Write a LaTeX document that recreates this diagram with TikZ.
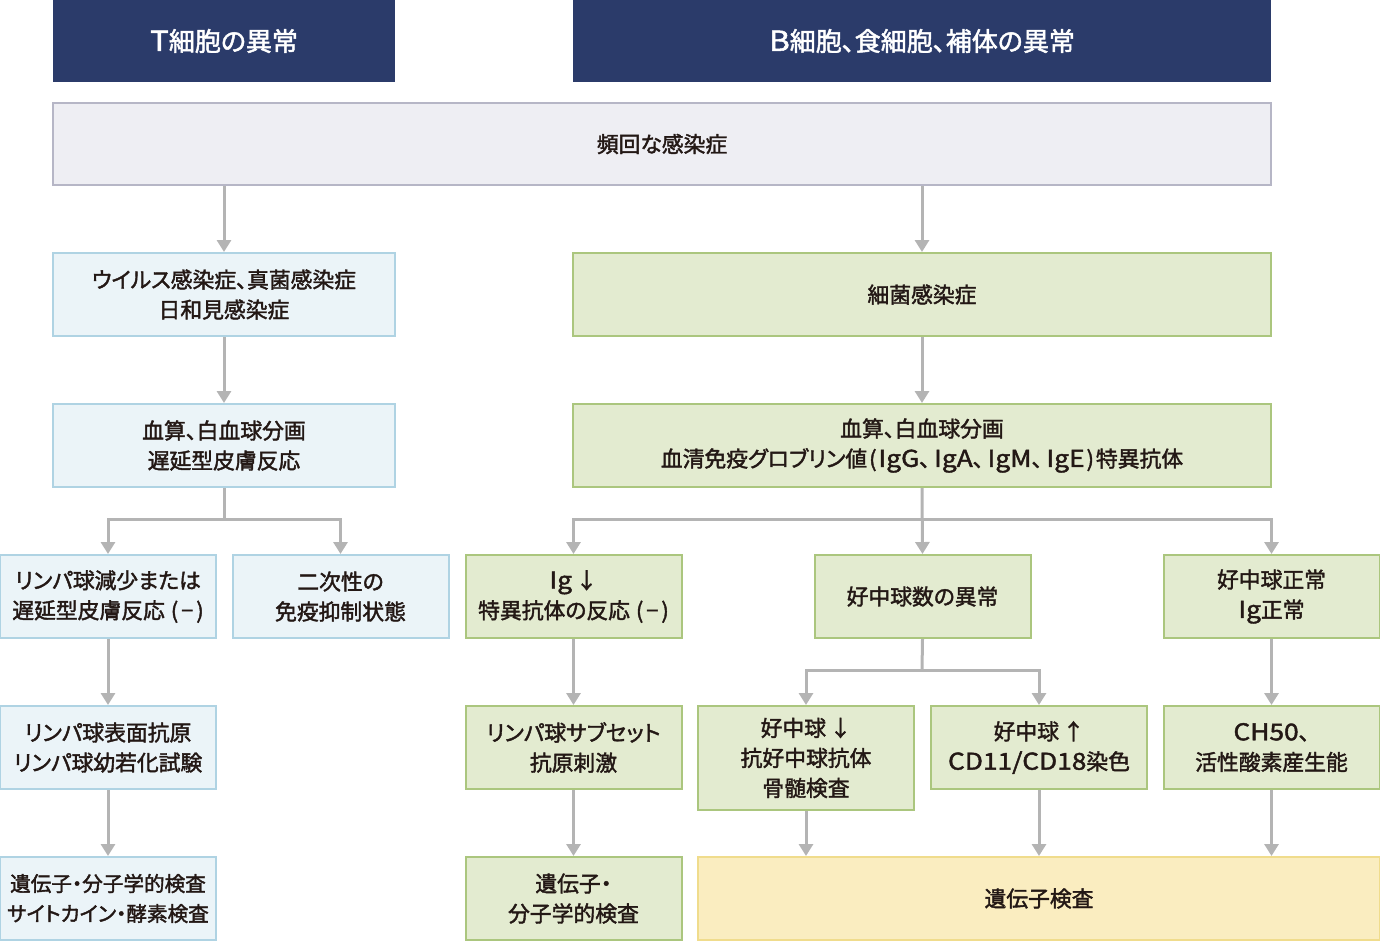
\documentclass[tikz,border=0pt]{standalone}
\usepackage{fontspec}
\setmainfont{Noto Sans CJK JP}[AutoFakeBold=1.8, RawFeature=+palt]
\newfontfamily\lat{Noto Sans CJK JP}[AutoFakeBold=1.8, FakeStretch=1.14, Scale=1.06]
\usetikzlibrary{arrows.meta}
\definecolor{navy}{HTML}{2B3B6A}
\definecolor{grayfill}{HTML}{EEEEF3}
\definecolor{grayline}{HTML}{B6B6C6}
\definecolor{bluefill}{HTML}{EBF4F8}
\definecolor{blueline}{HTML}{AFD3E3}
\definecolor{greenfill}{HTML}{E3EBD0}
\definecolor{greenline}{HTML}{ABC67E}
\definecolor{yelfill}{HTML}{FAEDC0}
\definecolor{yelline}{HTML}{F0DC8C}
\definecolor{arrgray}{HTML}{B4B4B4}
\definecolor{txt}{HTML}{231815}
\newcommand\negmark{\hspace{3pt}(\hspace{1.5pt}−\hspace{1.5pt})}
\tikzset{
  base/.style={align=center, inner sep=0pt, text=txt, line width=1pt,
    font=\bfseries\fontsize{10.9}{15}\selectfont},
  hdr/.style={base, fill=navy, text=white, font=\bfseries\fontsize{13}{15}\selectfont},
  graybox/.style={base, draw=grayline, fill=grayfill},
  bluebox/.style={base, draw=blueline, fill=bluefill},
  greenbox/.style={base, draw=greenline, fill=greenfill},
  yelbox/.style={base, draw=yelline, fill=yelfill},
  conn/.style={draw=arrgray, line width=1.5pt},
  arr/.style={conn, -{Triangle[width=7pt,length=6pt]}},
}
\begin{document}
\begin{tikzpicture}[x=0.5pt,y=-0.5pt]
\useasboundingbox (0,0) rectangle (1380,950);
% headers
\node[hdr, minimum width=171pt, minimum height=41pt] (h1) at (224,41) {{\lat T}細胞の異常};
\node[hdr, minimum width=349pt, minimum height=41pt] (h2) at (922,41) {{\lat B}細胞、食細胞、補体の異常};
% row 1
\node[graybox, minimum width=609pt, minimum height=41pt] (f) at (662,144) {頻回な感染症};
% row 2
\node[bluebox, minimum width=171pt, minimum height=41.5pt] (l2) at (224,294.5) {ウイルス感染症、真菌感染症\\日和見感染症};
\node[greenbox, minimum width=349pt, minimum height=41.5pt] (r2) at (922,294.5) {細菌感染症};
% row 3
\node[bluebox, minimum width=171pt, minimum height=41.5pt] (l3) at (224,445.5) {血算、白血球分画\\遅延型皮膚反応};
\node[greenbox, minimum width=349pt, minimum height=41.5pt] (r3) at (922,445.5) {血算、白血球分画\\血清免疫グロブリン値\hspace{1pt}(\hspace{1pt}{\lat IgG}、\hspace{2pt}{\lat IgA}、\hspace{2pt}{\lat IgM}、\hspace{2pt}{\lat IgE}\hspace{1pt})\hspace{1pt}特異抗体};
% row 4
\node[bluebox, minimum width=108pt, minimum height=41.5pt] (l4a) at (108,596.5) {リンパ球減少または\\遅延型皮膚反応\negmark};
\node[bluebox, minimum width=108pt, minimum height=41.5pt] (l4b) at (340.5,596.5) {二次性の\\免疫抑制状態};
\node[greenbox, minimum width=108pt, minimum height=41.5pt] (r4a) at (573.5,596.5) {{\lat Ig}\,↓\\特異抗体の反応\negmark};
\node[greenbox, minimum width=108pt, minimum height=41.5pt] (r4b) at (922.5,596.5) {好中球数の異常};
\node[greenbox, minimum width=108pt, minimum height=41.5pt] (r4c) at (1271.5,596.5) {好中球正常\\{\lat Ig}正常};
% row 5
\node[bluebox, minimum width=108pt, minimum height=41.5pt] (l5) at (108,747.5) {リンパ球表面抗原\\リンパ球幼若化試験};
\node[greenbox, minimum width=108pt, minimum height=41.5pt] (r5a) at (573.5,747.5) {リンパ球サブセット\\抗原刺激};
\node[greenbox, minimum width=108pt, minimum height=52pt] (r5b) at (806,758) {好中球\,↓\\抗好中球抗体\\骨髄検査};
\node[greenbox, minimum width=108pt, minimum height=41.5pt] (r5c) at (1039,747.5) {好中球\,↑\\{\lat CD11/CD18}染色};
\node[greenbox, minimum width=108pt, minimum height=41.5pt] (r5d) at (1271.5,747.5) {{\lat CH50}、\\活性酸素産生能};
% row 6
\node[bluebox, minimum width=108pt, minimum height=41.5pt, font=\bfseries\fontsize{10.3}{15}\selectfont] (l6) at (108,898.5) {遺伝子・分子学的検査\\サイトカイン・酵素検査};
\node[greenbox, minimum width=108pt, minimum height=41.5pt] (r6a) at (573.5,898.5) {遺伝子・\\分子学的検査};
\node[yelbox, minimum width=341pt, minimum height=41.5pt] (r6b) at (1039,898.5) {遺伝子検査};
% junctions
\coordinate (jl) at (224,519);
\coordinate (jr) at (922,519);
\coordinate (jn) at (922,670);
% connectors
\draw[arr] (f.south -| l2.north) -- (l2.north);
\draw[arr] (f.south -| r2.north) -- (r2.north);
\draw[arr] (l2.south) -- (l3.north);
\draw[arr] (r2.south) -- (r3.north);
\draw[conn] (l3.south) -- (jl);
\draw[arr] (jl) -| (l4a.north);
\draw[arr] (jl) -| (l4b.north);
\draw[arr] (r3.south) -- (r4b.north);
\draw[arr] (jr) -| (r4a.north);
\draw[arr] (jr) -| (r4c.north);
\draw[arr] (l4a.south) -- (l5.north);
\draw[arr] (l5.south) -- (l6.north);
\draw[arr] (r4a.south) -- (r5a.north);
\draw[arr] (r5a.south) -- (r6a.north);
\draw[conn] (r4b.south) -- (jn);
\draw[arr] (jn) -| (r5b.north);
\draw[arr] (jn) -| (r5c.north);
\draw[arr] (r4c.south) -- (r5d.north);
\draw[arr] (r5b.south) -- (r5b.south |- r6b.north);
\draw[arr] (r5c.south) -- (r5c.south |- r6b.north);
\draw[arr] (r5d.south) -- (r5d.south |- r6b.north);
\end{tikzpicture}
\end{document}
